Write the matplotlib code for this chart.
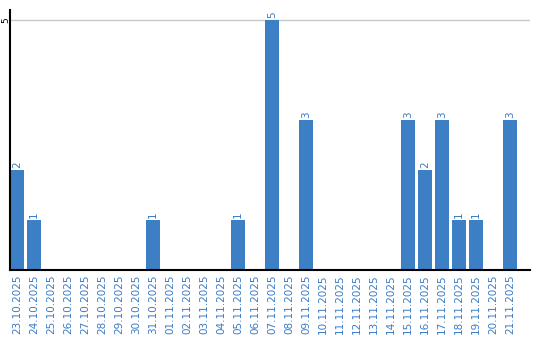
import matplotlib
matplotlib.use("Agg")
import matplotlib.pyplot as plt

dates = ["23.10.2025", "24.10.2025", "25.10.2025", "26.10.2025", "27.10.2025",
         "28.10.2025", "29.10.2025", "30.10.2025", "31.10.2025", "01.11.2025",
         "02.11.2025", "03.11.2025", "04.11.2025", "05.11.2025", "06.11.2025",
         "07.11.2025", "08.11.2025", "09.11.2025", "10.11.2025", "11.11.2025",
         "12.11.2025", "13.11.2025", "14.11.2025", "15.11.2025", "16.11.2025",
         "17.11.2025", "18.11.2025", "19.11.2025", "20.11.2025", "21.11.2025"]
values = [2, 1, 0, 0, 0, 0, 0, 0, 1, 0,
          0, 0, 0, 1, 0, 5, 0, 3, 0, 0,
          0, 0, 0, 3, 2, 3, 1, 1, 0, 3]
yticks = [5]

bar_color = "#3d7fc4"
label_color = "#3a7bc6"

fig = plt.figure(figsize=(5.4, 3.4), dpi=100)
ax = fig.add_axes([10/540, 70/340, 520/540, 260/340])

x = list(range(len(dates)))
w = 0.824
bars = ax.bar(x, values, width=w, color=bar_color, zorder=2)
for xi, v in zip(x, values):
    if v > 0:
        ax.text(xi, v + 0.04, str(v), rotation=90, ha="center", va="bottom",
                color=label_color, fontsize=7.5)

ax.set_xlim(-w/2, -w/2 + 520/17)
ax.set_ylim(0, 5.2)
ax.set_xticks(x)
ax.set_xticklabels(dates, rotation=90, fontsize=7.5, color=label_color)
ax.set_yticks(yticks)
ax.set_yticklabels([str(t) for t in yticks], rotation=90, fontsize=6.5, va="center")
ax.tick_params(axis="x", length=0, pad=3)
ax.tick_params(axis="y", length=0, pad=0)
ax.grid(axis="y", color="#c8c8c8", linewidth=1, zorder=0)
for s in ["top", "right"]:
    ax.spines[s].set_visible(False)
ax.spines["left"].set_linewidth(1.5)
ax.spines["bottom"].set_linewidth(1.5)

fig.savefig("out.png", dpi=100)
